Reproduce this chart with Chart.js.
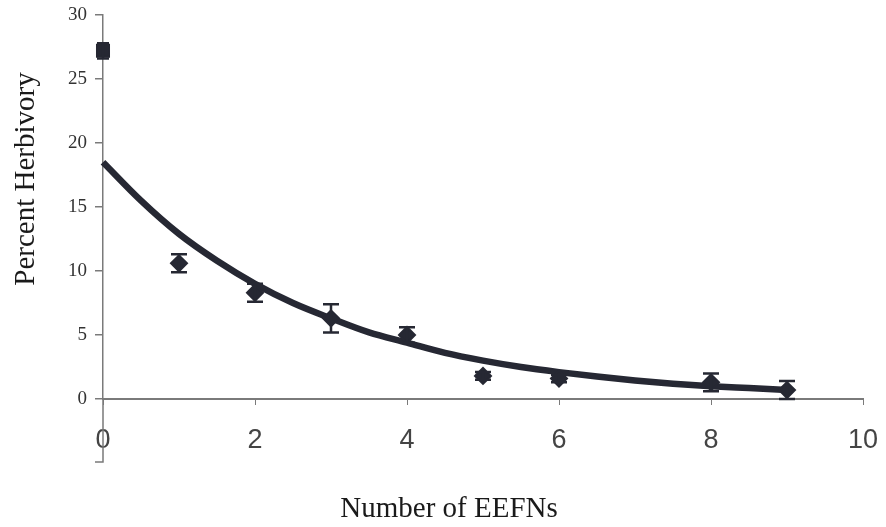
<!DOCTYPE html>
<html>
<head>
<meta charset="utf-8">
<script src="https://cdn.jsdelivr.net/npm/chart.js@4"></script>
<style>
  html, body { margin: 0; padding: 0; background: #ffffff; }
  #wrap { width: 886px; height: 527px; position: relative; }
</style>
</head>
<body>
<div id="wrap"><canvas id="c" width="886" height="527"></canvas></div>
<script>
const eefnCounts   = [0, 1, 2, 3, 4, 5, 6, 8, 9];
const herbivory    = [27.2, 10.6, 8.3, 6.3, 5.0, 1.8, 1.6, 1.3, 0.7];
const herbivoryErr = [0.6, 0.7, 0.7, 1.1, 0.6, 0.3, 0.3, 0.7, 0.7];

// Fitted trend curve
const curveX = [0, 0.5, 1, 1.5, 2, 2.5, 3, 3.5, 4, 4.5, 5, 5.5, 6, 6.5, 7, 7.5, 8, 8.5, 9];
const curveY = [18.5, 15.5, 12.9, 10.8, 9.0, 7.5, 6.3, 5.2, 4.4, 3.6, 3.0, 2.5, 2.1, 1.75, 1.45, 1.2, 1.0, 0.85, 0.7];

const xTicks = [0, 2, 4, 6, 8, 10];
const yTicks = [0, 5, 10, 15, 20, 25, 30];
const xTitle = 'Number of EEFNs';
const yTitle = 'Percent Herbivory';

const markColor = '#262833';
const axisColor = '#7a7a7a';

const pointData = eefnCounts.map((x, i) => ({ x: x, y: herbivory[i] }));
const curveData = curveX.map((x, i) => ({ x: x, y: curveY[i] }));

const extras = {
  id: 'extras',
  afterDatasetsDraw(chart) {
    const ctx = chart.ctx;
    const xs = chart.scales.x, ys = chart.scales.y;
    ctx.save();
    ctx.strokeStyle = markColor;
    ctx.lineWidth = 2.5;
    eefnCounts.forEach((x, i) => {
      const px = xs.getPixelForValue(x);
      const top = ys.getPixelForValue(herbivory[i] + herbivoryErr[i]);
      const bot = ys.getPixelForValue(herbivory[i] - herbivoryErr[i]);
      const cap = x === 0 ? 6 : 8;
      ctx.beginPath();
      ctx.moveTo(px, top); ctx.lineTo(px, bot);
      ctx.moveTo(px - cap, top); ctx.lineTo(px + cap, top);
      ctx.moveTo(px - cap, bot); ctx.lineTo(px + cap, bot);
      ctx.stroke();
    });
    ctx.restore();
  },
  afterDraw(chart) {
    const ctx = chart.ctx;
    const area = chart.chartArea;
    ctx.save();
    // y-axis continuation below the x axis
    ctx.strokeStyle = axisColor;
    ctx.lineWidth = 1.5;
    ctx.beginPath();
    ctx.moveTo(area.left, area.bottom);
    ctx.lineTo(area.left, area.bottom + 63);
    ctx.lineTo(area.left - 8, area.bottom + 63);
    ctx.stroke();
    // axis titles
    ctx.fillStyle = '#1a1a1a';
    ctx.font = '29px "Liberation Serif", "Times New Roman", serif';
    ctx.textAlign = 'center';
    ctx.textBaseline = 'middle';
    ctx.fillText(xTitle, 449, 509);
    ctx.translate(26, 179);
    ctx.rotate(-Math.PI / 2);
    ctx.fillText(yTitle, 0, 0);
    ctx.restore();
  }
};

new Chart(document.getElementById('c'), {
  type: 'scatter',
  data: {
    datasets: [
      {
        type: 'line',
        data: curveData,
        borderColor: markColor,
        borderWidth: 6.5,
        pointRadius: 0,
        fill: false,
        tension: 0.4,
        cubicInterpolationMode: 'monotone',
        clip: false,
        order: 2
      },
      {
        data: pointData,
        backgroundColor: markColor,
        borderColor: markColor,
        borderWidth: 2,
        pointStyle: eefnCounts.map(x => x === 0 ? 'rect' : 'rectRot'),
        pointRadius: eefnCounts.map(x => x === 0 ? 8.5 : 8),
        clip: false,
        order: 1
      }
    ]
  },
  options: {
    responsive: false,
    animation: false,
    layout: { padding: { top: 15, right: 23, left: 0, bottom: 0 } },
    plugins: { legend: { display: false }, tooltip: { enabled: false } },
    scales: {
      x: {
        type: 'linear',
        min: 0, max: 10,
        afterBuildTicks: s => { s.ticks = xTicks.map(v => ({ value: v })); },
        afterFit: s => { s.height = 128; s.paddingLeft = 0; s.paddingRight = 0; },
        border: { color: axisColor, width: 2 },
        grid: { drawOnChartArea: false, color: axisColor, tickLength: 6, lineWidth: 1 },
        ticks: {
          padding: 19,
          color: '#444444',
          font: { family: '"Liberation Sans", Arial, sans-serif', size: 27 }
        }
      },
      y: {
        min: 0, max: 30,
        afterBuildTicks: s => { s.ticks = yTicks.map(v => ({ value: v })); },
        afterFit: s => { s.width = 103; s.paddingTop = 0; s.paddingBottom = 0; },
        border: { color: axisColor, width: 1.5 },
        grid: { drawOnChartArea: false, color: axisColor, tickLength: 8, lineWidth: 1.5 },
        ticks: {
          padding: 8,
          color: '#333333',
          font: { family: '"Liberation Serif", "Times New Roman", serif', size: 19 }
        }
      }
    }
  },
  plugins: [extras]
});
</script>
</body>
</html>
